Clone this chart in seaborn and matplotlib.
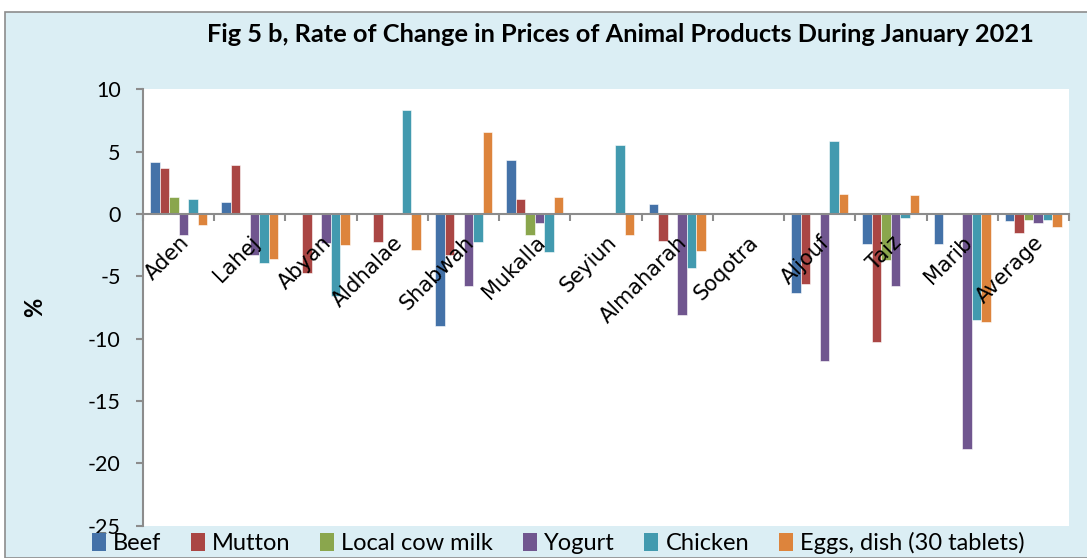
import matplotlib
matplotlib.use("Agg")
import matplotlib.pyplot as plt
from matplotlib.patches import Patch, Rectangle
import seaborn as sns
import pandas as pd

regions = ["Aden", "Lahej", "Abyan", "Aldhalae", "Shabwah", "Mukalla", "Seyiun",
           "Almaharah", "Soqotra", "Aljouf", "Taiz", "Marib", "Average"]
products = ["Beef", "Mutton", "Local cow milk", "Yogurt", "Chicken", "Eggs, dish (30 tablets)"]

beef    = [4.2, 1.0, 0.0, 0.0, -9.0, 4.35, 0.0, 0.8, 0.0, -6.3, -2.4, -2.4, -0.57]
mutton  = [3.7, 3.9, -4.7, -2.25, -3.25, 1.2, 0.0, -2.2, 0.0, -5.6, -10.3, 0.0, -1.55]
milk    = [1.4, 0.0, 0.0, 0.0, 0.0, -1.7, 0.0, 0.0, 0.0, 0.0, -3.65, 0.0, -0.45]
yogurt  = [-1.7, -3.3, -2.3, 0.0, -5.8, -0.75, 0.0, -8.1, 0.0, -11.8, -5.8, -18.85, -0.75]
chicken = [1.2, -3.9, -6.6, 8.35, -2.25, -3.05, 5.55, -4.35, 0.0, 5.85, -0.35, -8.5, -0.45]
eggs    = [-0.85, -3.6, -2.5, -2.85, 6.6, 1.4, -1.65, -3.0, 0.0, 1.6, 1.5, -8.7, -1.05]

colors = ["#4472A8", "#AA4644", "#8AA64D", "#70568F", "#429AAF", "#DD843C"]

series = [beef, mutton, milk, yogurt, chicken, eggs]
rows = []
for p, vals in zip(products, series):
    for r, v in zip(regions, vals):
        rows.append({"region": r, "product": p, "value": v})
df = pd.DataFrame(rows)

sns.set_theme(style="white")
plt.rcParams['font.family'] = ['Lato', 'DejaVu Sans']
plt.rcParams['text.color'] = 'black'
plt.rcParams['xtick.color'] = 'black'
plt.rcParams['ytick.color'] = 'black'
plt.rcParams['axes.labelcolor'] = 'black'

fig = plt.figure(figsize=(10.87, 5.58), dpi=100)
fig.patch.set_facecolor("white")
bg = Rectangle((5 / 1087, 0), 1.2, 1 - 12 / 558, transform=fig.transFigure,
               facecolor="#DBEEF4", edgecolor="#8C8C8C", linewidth=1.2, zorder=-10)
fig.patches.append(bg)

ax = fig.add_axes([143 / 1087, 1 - 525.5 / 558, (1069 - 143) / 1087, (525.5 - 89.5) / 558])
ax.set_facecolor("white")

sns.barplot(data=df, x="region", y="value", hue="product", order=regions,
            hue_order=products, palette=colors, saturation=1, width=0.8, ax=ax,
            edgecolor="white", linewidth=0.4, legend=False, errorbar=None)

ax.set_ylim(-25, 10)
ax.set_xlim(-0.5, len(regions) - 0.5)
ax.set_yticks([10, 5, 0, -5, -10, -15, -20, -25])
ax.set_yticklabels(["10", "5", "0", "-5", "-10", "-15", "-20", "-25"], fontsize=15.5)

axcol = "#8C8C8C"
for s in ["top", "right"]:
    ax.spines[s].set_visible(False)
ax.spines["left"].set_color(axcol)
ax.spines["left"].set_linewidth(1.5)
ax.spines["bottom"].set_position(("data", 0))
ax.spines["bottom"].set_color(axcol)
ax.spines["bottom"].set_linewidth(1.5)

ax.tick_params(axis="y", which="major", direction="out", length=5, width=1.5,
               color=axcol, pad=11, left=True)
ax.set_xticks([i - 0.5 for i in range(len(regions) + 1)])
ax.set_xticklabels([])
ax.set_xticks(range(len(regions)), minor=True)
ax.set_xticklabels(regions, minor=True, fontsize=15, rotation=45,
                   ha="right", va="top", rotation_mode="anchor",
                   family=["DejaVu Sans"])
ax.tick_params(axis="x", which="major", direction="out", length=5, width=1.5,
               color=axcol, bottom=True)
ax.tick_params(axis="x", which="minor", length=0, pad=13, bottom=True)
ax.set_axisbelow(False)
ax.xaxis.set_zorder(10)
ax.spines["bottom"].set_zorder(9)
ax.set_xlabel("")
ax.set_ylabel("%", fontsize=17, fontweight="bold", labelpad=30)

fig.text(620 / 1087, 1 - 35 / 558,
         "Fig 5 b, Rate of Change in Prices of Animal Products During January 2021",
         ha="center", va="center", fontsize=18.3, fontweight="bold")

handles = [Patch(facecolor=c, edgecolor="none") for c in colors]
fig.legend(handles, products, loc="center", bbox_to_anchor=(558 / 1087, 1 - 543 / 558),
           ncol=6, frameon=False, fontsize=17, handlelength=0.6, handleheight=0.8,
           handletextpad=0.3, columnspacing=1.25, borderaxespad=0)

fig.savefig("out.png", dpi=100, facecolor=fig.get_facecolor())
